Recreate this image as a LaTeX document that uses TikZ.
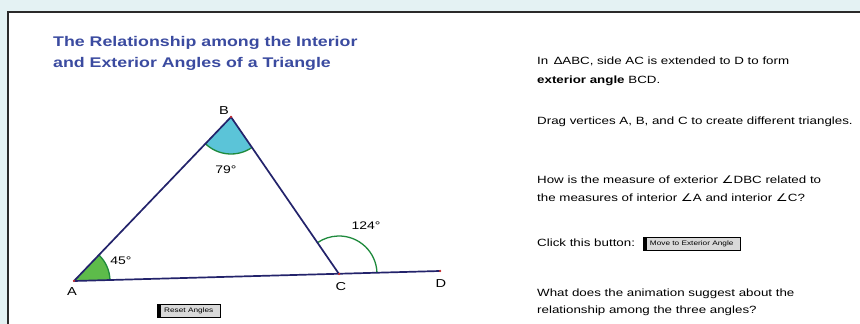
\documentclass[tikz,border=0pt]{standalone}
\usepackage{fontspec}
\setmainfont{Liberation Sans}
\newfontfamily\symfont{DejaVu Sans}
\usetikzlibrary{angles}
\definecolor{bgcyan}{HTML}{E4F2F3}
\definecolor{panelgray}{HTML}{2A2A2A}
\definecolor{titleblue}{HTML}{3B4BA0}
\definecolor{sidenavy}{HTML}{23236B}
\definecolor{arcgreen}{HTML}{1E8A3C}
\definecolor{fillgreen}{HTML}{5DBB4A}
\definecolor{fillcyan}{HTML}{5BC4D8}
\definecolor{btngray}{HTML}{D9D9D9}
\definecolor{dotred}{HTML}{D03030}
\newcommand{\angsym}{{\symfont\char"2220}}
% the screen shot is stretched sideways
\newcommand{\wide}[1]{\scalebox{1.27}[1]{#1}}
\tikzset{
  side/.style={sidenavy, line width=1.7pt, line cap=round},
  vertexdot/.style={circle, fill=dotred, inner sep=0pt, minimum size=2.5pt},
  vertexlabel/.style={font=\fontsize{11.5}{11.5}\selectfont},
  anglelabel/.style={font=\fontsize{11}{11}\selectfont},
  infotext/.style={anchor=base west, inner sep=0pt, font=\fontsize{10.5}{10.5}\selectfont},
  titletext/.style={anchor=base west, inner sep=0pt, text=titleblue, font=\fontsize{14}{14}\selectfont\bfseries},
  btnbox/.style={draw=black, fill=btngray, anchor=south west, inner sep=1pt,
    minimum height=13pt, text height=5pt, text depth=1pt,
    font=\fontsize{6.5}{6.5}\selectfont,
    path picture={\fill[black] (path picture bounding box.south west) rectangle ([xshift=4pt]path picture bounding box.north west);}}
}
\begin{document}
\begin{tikzpicture}[x=1pt,y=1pt]
  \useasboundingbox (0,0) rectangle (860,324);
  % background and panel
  \fill[bgcyan] (0,0) rectangle (860,324);
  \fill[white] (8,0) rectangle (860,312);
  \draw[panelgray, line width=1.5pt] (8,0) -- (8,312) -- (860,312);
  % title
  \node[titletext] (title1) at (53,277) {\wide{The Relationship among the Interior}};
  \node[titletext] (title2) at (53,256) {\wide{and Exterior Angles of a Triangle}};
  % triangle
  \coordinate (A) at (74,43);
  \coordinate (B) at (231,207);
  \coordinate (C) at (339,50);
  \coordinate (D) at (440,53);
  \pic[fill=fillgreen, draw=arcgreen, line width=1.3pt, angle radius=36pt] {angle=C--A--B};
  \pic[fill=fillcyan, draw=arcgreen, line width=1.3pt, angle radius=37pt] {angle=A--B--C};
  \pic[draw=arcgreen, line width=1.3pt, angle radius=38pt] {angle=D--C--B};
  \draw[side] (A) to (B);
  \draw[side] (B) to (C);
  \draw[side] (A) to (D);
  \foreach \p in {A,B,C,D} \node[vertexdot] at (\p) {};
  \node[vertexlabel] (labA) at (72,32) {\wide{A}};
  \node[vertexlabel] (labB) at (224,213) {\wide{B}};
  \node[vertexlabel] (labC) at (341,37) {\wide{C}};
  \node[vertexlabel] (labD) at (441,40) {\wide{D}};
  \node[anglelabel] (angA) at (121,63) {\wide{45°}};
  \node[anglelabel] (angB) at (226,154) {\wide{79°}};
  \node[anglelabel] (angC) at (366,98) {\wide{124°}};
  \node[btnbox, minimum width=63pt] (reset) at (157,7) {\wide{Reset Angles}};
  % text on the right
  \node[infotext] (t1) at (537,259) {\wide{In \,∆ABC, side AC is extended to D to form}};
  \node[infotext] (t2) at (537,240) {\wide{\textbf{exterior angle} BCD.}};
  \node[infotext] (t3) at (537,199) {\wide{Drag vertices A, B, and C to create different triangles.}};
  \node[infotext] (t4) at (537,140) {\wide{How is the measure of exterior \angsym DBC related to}};
  \node[infotext] (t5) at (537,122) {\wide{the measures of interior \angsym A and interior \angsym C?}};
  \node[infotext] (t6) at (537,77) {\wide{Click this button:}};
  \node[btnbox, minimum width=97pt] (move) at (643,74) {\wide{Move to Exterior Angle}};
  \node[infotext] (t7) at (537,27) {\wide{What does the animation suggest about the}};
  \node[infotext] (t8) at (537,10) {\wide{relationship among the three angles?}};
\end{tikzpicture}
\end{document}
